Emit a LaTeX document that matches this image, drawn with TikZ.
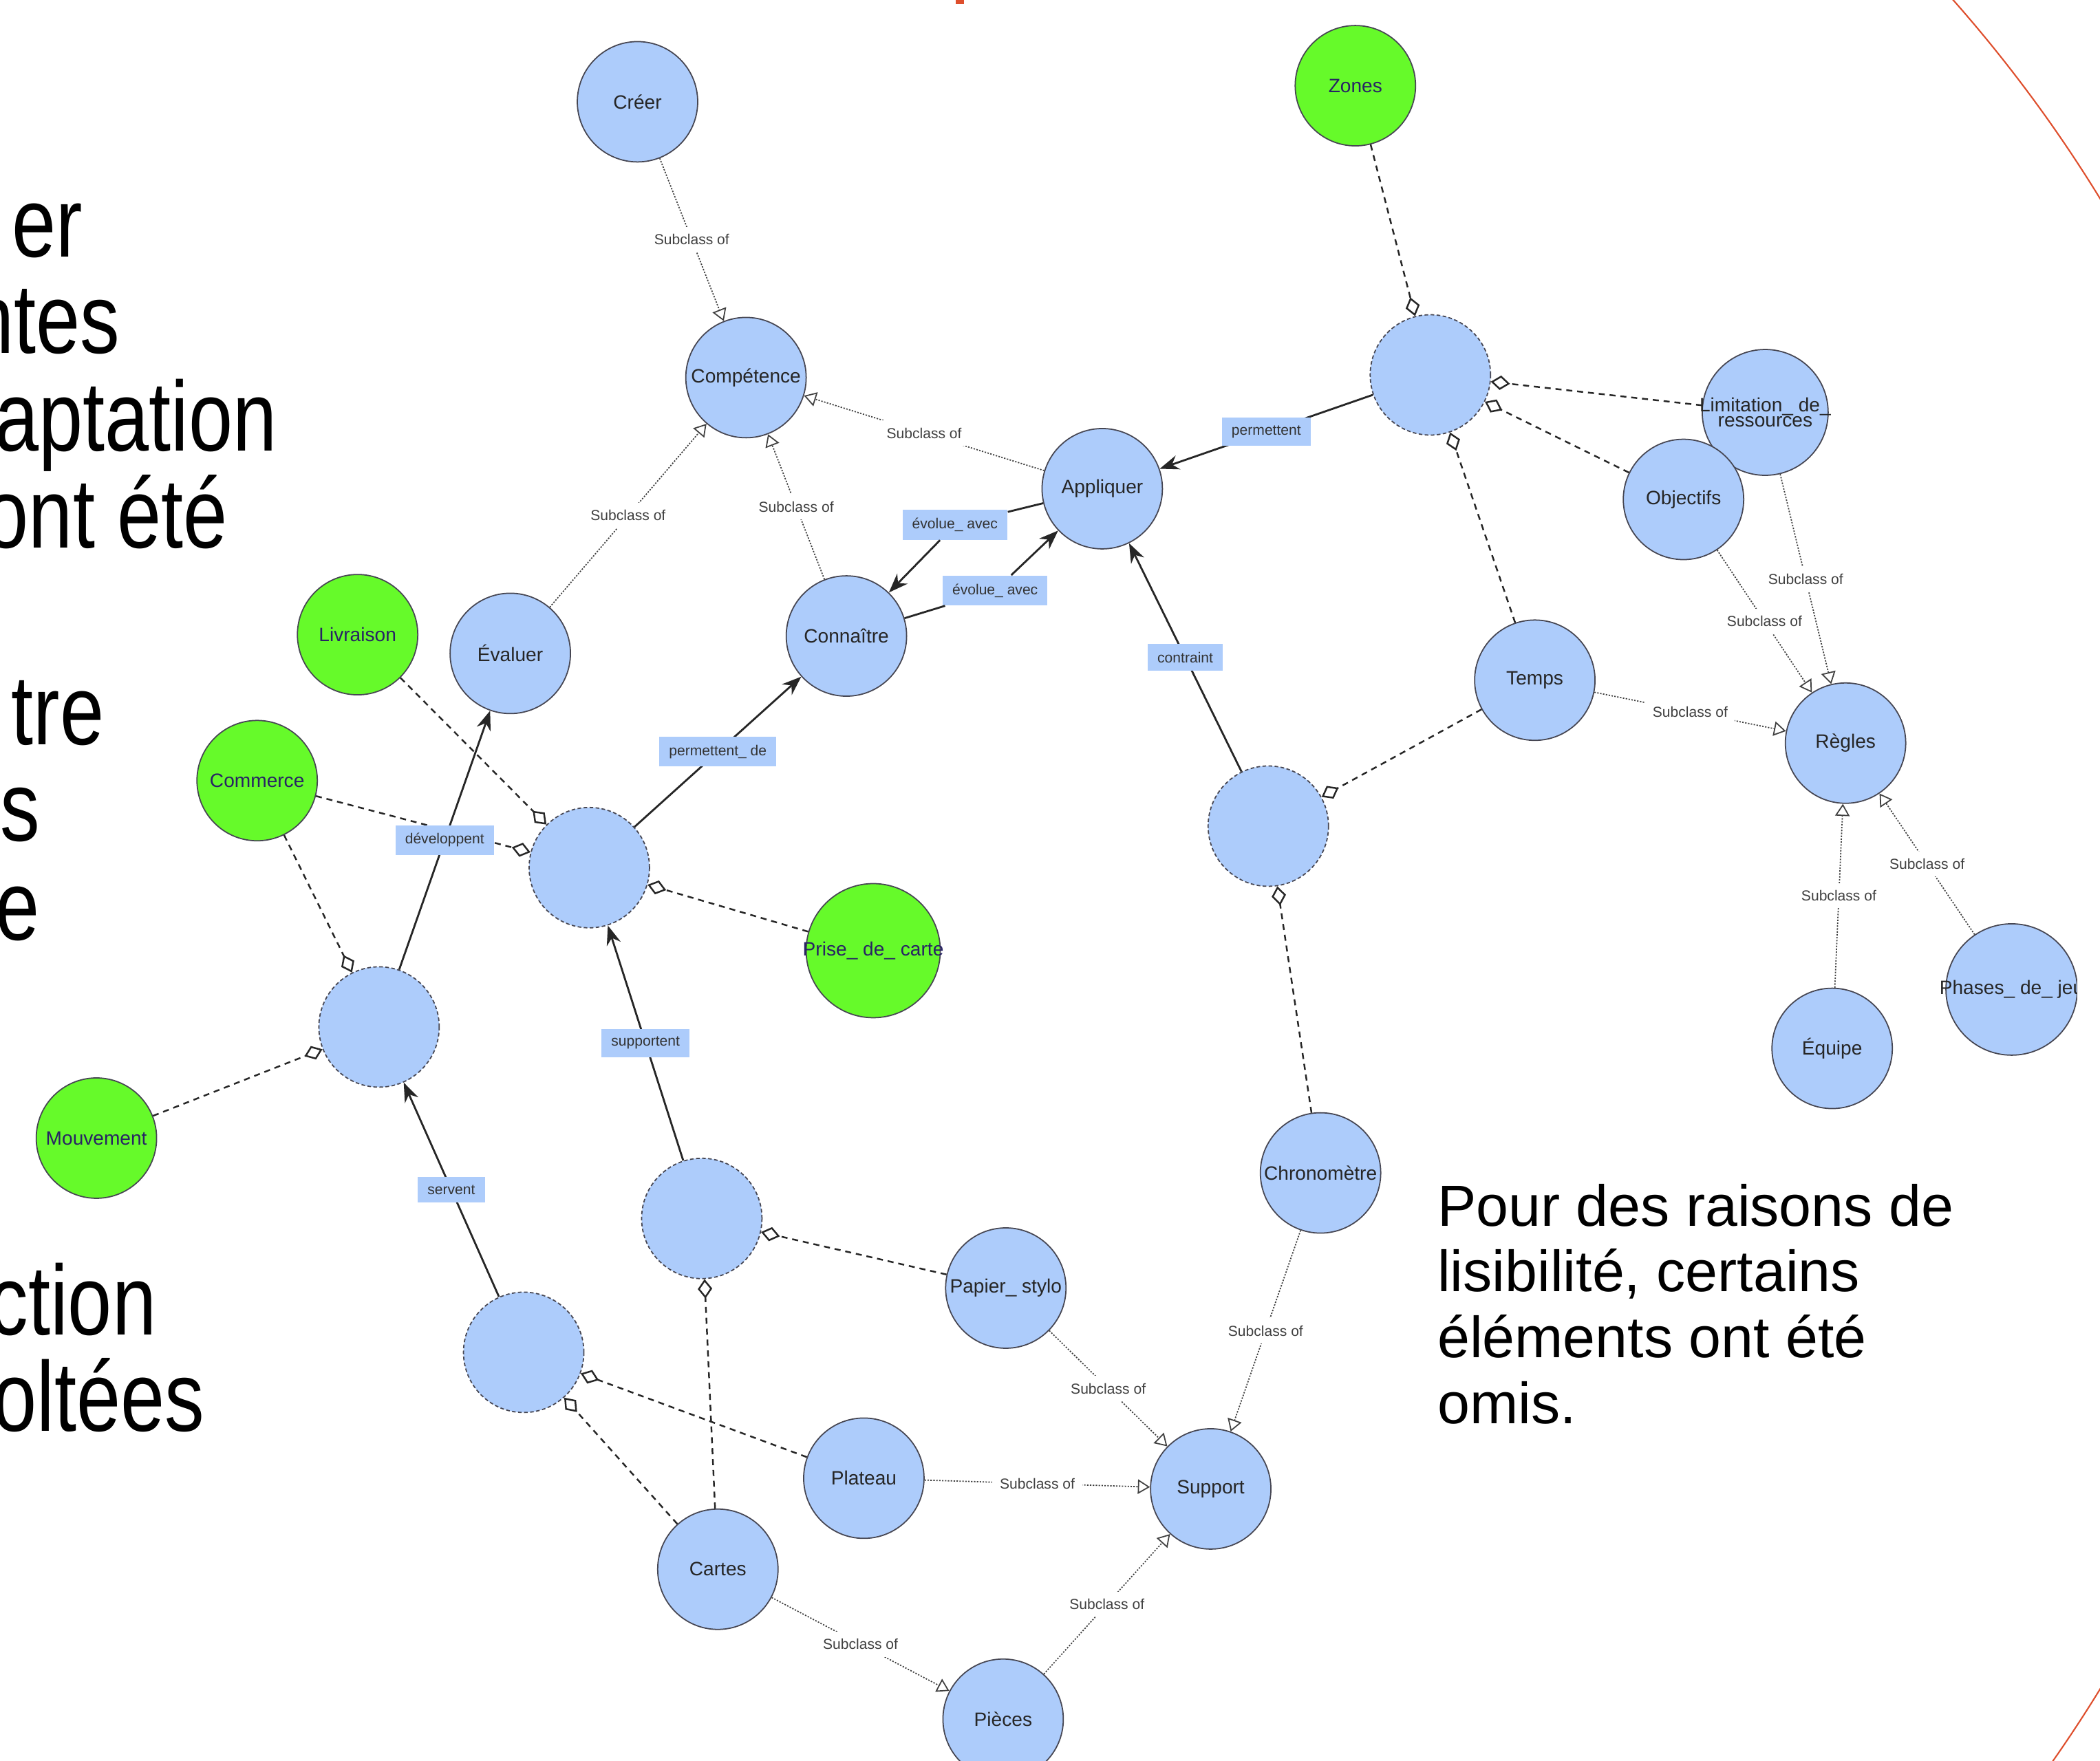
\documentclass[tikz,border=0pt]{standalone}
\usepackage{fontspec}
\setmainfont{Liberation Sans}
\usetikzlibrary{arrows.meta}
\definecolor{nodeblue}{RGB}{173,204,251}
\definecolor{nodegreen}{RGB}{102,250,42}
\definecolor{rimgrey}{RGB}{70,70,82}
\definecolor{greentext}{RGB}{40,35,100}
\definecolor{slidered}{RGB}{222,78,44}
\begin{document}
\begin{tikzpicture}[x=0.019464cm, y=-0.019464cm,
 cls/.style={circle, draw=rimgrey, fill=nodeblue, line width=0.5pt, minimum size=1.75cm, inner sep=0pt, font=\fontsize{8}{9}\selectfont, text=black!85},
 ext/.style={cls, fill=nodegreen, text=greentext},
 anon/.style={cls, dash pattern=on 1.5pt off 1pt},
 subcl/.style={draw=black!75, line width=0.5pt, dash pattern=on 0.6pt off 0.6pt, -{Triangle[open, length=5pt, width=6pt]}},
 subtxt/.style={fill=white, font=\fontsize{6}{7}\selectfont, text=black!75, inner sep=3pt},
 memb/.style={draw=black!85, line width=0.7pt, dash pattern=on 2.5pt off 2pt, -{Diamond[open, length=8pt, width=6pt]}},
 prop/.style={draw=black!85, line width=0.8pt, -{Stealth[length=8pt, width=6pt]}},
 proptxt/.style={fill=nodeblue, font=\fontsize{6}{7}\selectfont, text=black!80, inner xsep=4pt, minimum height=10.5pt},
 big/.style={font=\fontsize{41}{41}\selectfont, anchor=base east, inner sep=0pt, xscale=0.8}]
\useasboundingbox (0,0) rectangle (1568,1315);
\clip (0,0) rectangle (1568,1315);
% slide leftovers
\draw[slidered, line width=0.6pt] (659,704.9) circle [radius=20.75cm];
\fill[slidered] (713.6,0) rectangle (719.8,3);
\node[big] (l1) at (62,192) {er};
\node[big] (l2) at (90,264) {ntes};
\node[big] (l3) at (207,337) {aptation};
\node[big] (l4) at (170,409) {ont été};
\node[big] (l5) at (78,556) {tre};
\node[big] (l6) at (30,628) {s};
\node[big] (l7) at (30,702) {e};
\node[big] (l8) at (117,997) {ction};
\node[big] (l9) at (153,1069) {oltées};
\node[anchor=base west, align=left, inner sep=0pt, font=\fontsize{24}{27.2}\selectfont] (note) at (1073,1063)
 {Pour des raisons de\\lisibilité, certains\\éléments ont été\\omis.};
\begin{scope}
\clip (0,0) rectangle (1551,1315);
% classes
\node[cls] (creer) at (476,76) {Créer};
\node[cls] (competence) at (557,282) {Compétence};
\node[ext] (zones) at (1012,64) {Zones};
\node[anon] (hubA) at (1068,280) {};
\node[cls, minimum size=1.83cm, align=center, font=\fontsize{8}{6.2}\selectfont] (limitation) at (1318,308)
 {\makebox[0pt]{Limitation\_ de\_}\\\makebox[0pt]{ressources}};
\node[cls] (objectifs) at (1257,373) {Objectifs};
\node[cls] (appliquer) at (823,365) {Appliquer};
\node[cls] (connaitre) at (632,475) {Connaître};
\node[cls] (evaluer) at (381,488) {Évaluer};
\node[ext] (livraison) at (267,474) {Livraison};
\node[ext] (commerce) at (192,583) {Commerce};
\node[anon] (hubB) at (440,648) {};
\node[ext, minimum size=1.95cm] (prise) at (652,710) {\makebox[0pt]{Prise\_ de\_ carte}};
\node[anon] (hubC) at (283,767) {};
\node[ext] (mouvement) at (72,850) {Mouvement};
\node[anon] (hubD) at (947,617) {};
\node[cls] (temps) at (1146,508) {Temps};
\node[cls] (regles) at (1378,555) {Règles};
\node[cls] (equipe) at (1368,783) {Équipe};
\node[cls, minimum size=1.91cm] (phases) at (1502,739) {\makebox[0pt]{Phases\_ de\_ jeu}};
\node[cls] (chrono) at (986,876) {\makebox[0pt]{Chronomètre}};
\node[anon] (hubE) at (524,910) {};
\node[cls] (papier) at (751,962) {\makebox[0pt]{Papier\_ stylo}};
\node[anon] (hubF) at (391,1010) {};
\node[cls] (plateau) at (645,1104) {Plateau};
\node[cls] (support) at (904,1112) {Support};
\node[cls] (cartes) at (536,1172) {Cartes};
\node[cls] (pieces) at (749,1284) {Pièces};
% subclass of
\draw[subcl] (creer) -- node[subtxt] {Subclass of} (competence);
\draw[subcl] (evaluer) -- node[subtxt] {Subclass of} (competence);
\draw[subcl] (connaitre) -- node[subtxt] {Subclass of} (competence);
\draw[subcl] (appliquer) -- node[subtxt] {Subclass of} (competence);
\draw[subcl] (limitation) -- node[subtxt] {Subclass of} (regles);
\draw[subcl] (objectifs) -- node[subtxt] {Subclass of} (regles);
\draw[subcl] (temps) -- node[subtxt] {Subclass of} (regles);
\draw[subcl] (equipe) -- node[subtxt] {Subclass of} (regles);
\draw[subcl] (phases) -- node[subtxt] {Subclass of} (regles);
\draw[subcl] (chrono) -- node[subtxt] {Subclass of} (support);
\draw[subcl] (papier) -- node[subtxt] {Subclass of} (support);
\draw[subcl] (plateau) -- node[subtxt] {Subclass of} (support);
\draw[subcl] (pieces) -- node[subtxt] {Subclass of} (support);
\draw[subcl] (cartes) -- node[subtxt] {Subclass of} (pieces);
% members
\draw[memb] (zones) -- (hubA);
\draw[memb] (limitation) -- (hubA);
\draw[memb] (objectifs) -- (hubA);
\draw[memb] (temps) -- (hubA);
\draw[memb] (livraison) -- (hubB);
\draw[memb] (commerce) -- (hubB);
\draw[memb] (prise) -- (hubB);
\draw[memb] (commerce) -- (hubC);
\draw[memb] (mouvement) -- (hubC);
\draw[memb] (temps) -- (hubD);
\draw[memb] (chrono) -- (hubD);
\draw[memb] (papier) -- (hubE);
\draw[memb] (cartes) -- (hubE);
\draw[memb] (plateau) -- (hubF);
\draw[memb] (cartes) -- (hubF);
% relations
\draw[prop] (hubA) -- node[proptxt] {permettent} (appliquer);
\draw[prop] (hubD) -- node[proptxt] {contraint} (appliquer);
\draw[prop] (hubB) -- node[proptxt] {permettent\_ de} (connaitre);
\draw[prop] (hubC) -- node[proptxt] {développent} (evaluer);
\draw[prop] (hubE) -- node[proptxt] {supportent} (hubB);
\draw[prop] (hubF) -- node[proptxt] {servent} (hubC);
\node[proptxt] (evoA) at (713,392) {évolue\_ avec};
\node[proptxt] (evoB) at (743,441) {évolue\_ avec};
\draw[prop] (appliquer) -- (evoA) -- (connaitre);
\draw[prop] (connaitre) -- (evoB) -- (appliquer);
\end{scope}
\end{tikzpicture}
\end{document}
